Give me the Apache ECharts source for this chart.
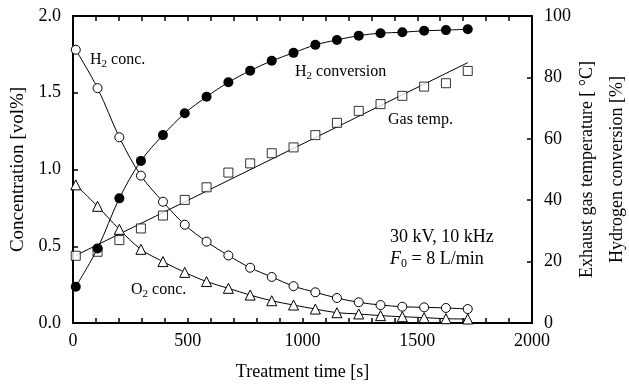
<!DOCTYPE html>
<html>
<head>
<meta charset="utf-8">
<script src="https://cdn.jsdelivr.net/npm/echarts@6/dist/echarts.min.js"></script>
<style>
  html, body { margin: 0; padding: 0; background: #fff; }
  #chart { width: 629px; height: 385px; }
</style>
</head>
<body>
<div id="chart"></div>
<script>
// treatment time of each sample [s]
const times = [12, 107, 202, 296, 392, 487, 582, 677, 772, 866, 961, 1056, 1150, 1245, 1340, 1435, 1530, 1625, 1720];
// left axis [vol%]
const h2Conc = [1.78, 1.53, 1.21, 0.96, 0.79, 0.64, 0.53, 0.44, 0.36, 0.30, 0.24, 0.20, 0.163, 0.135, 0.117, 0.106, 0.102, 0.098, 0.091];
const o2Conc = [0.90, 0.76, 0.61, 0.48, 0.40, 0.33, 0.27, 0.226, 0.182, 0.145, 0.117, 0.091, 0.067, 0.059, 0.048, 0.041, 0.035, 0.028, 0.026];
// right axis [%] / [°C]
const h2Conversion = [11.8, 24.3, 40.6, 52.8, 61.2, 68.3, 73.7, 78.4, 82.2, 85.4, 88.0, 90.6, 92.2, 93.6, 94.4, 94.7, 95.2, 95.4, 95.7];
const gasTemp = [21.9, 23.2, 27.0, 30.8, 35.0, 40.1, 44.2, 49.0, 52.0, 55.3, 57.2, 61.2, 65.2, 69.1, 71.3, 74.0, 77.0, 78.1, 82.1];
// straight fit through the gas temperature
const gasTempFitX = [12, 1720];
const gasTempFit = [22.0, 84.8];

const xTicks = [0, 500, 1000, 1500, 2000];
const leftTicks = ['0.0', '0.5', '1.0', '1.5', '2.0'];

const FONT = '"Liberation Serif", "Times New Roman", serif';
const BLACK = '#000';

const zip = (xs, ys) => xs.map((x, i) => [x, ys[i]]);

const chart = echarts.init(document.getElementById('chart'), null, { renderer: 'canvas' });

// shared look for all four axes: black frame, ticks pointing inward
const axisBase = {
  type: 'value',
  splitLine: { show: false },
  axisLine: { show: true, onZero: false, lineStyle: { color: BLACK, width: 2 } },
  axisTick: { show: true, inside: true, length: 5, lineStyle: { color: BLACK, width: 1.5 } },
  axisLabel: { color: BLACK, fontFamily: FONT, fontSize: 18 },
  nameTextStyle: { color: BLACK, fontFamily: FONT, fontSize: 18 },
  nameMoveOverlap: false,
};

const xBase = {
  ...axisBase,
  min: xTicks[0],
  max: xTicks[xTicks.length - 1],
  interval: 500,
  minorTick: { show: true, splitNumber: 5, length: 5, lineStyle: { color: BLACK, width: 1.5 } },
};

const rich = {
  n: { fontFamily: FONT, fontSize: 16, color: BLACK },
  s: { fontFamily: FONT, fontSize: 11, color: BLACK, padding: [9, 0, 0, 0] },
  b: { fontFamily: FONT, fontSize: 18, color: BLACK },
  bi: { fontFamily: FONT, fontSize: 18, color: BLACK, fontStyle: 'italic' },
  bs: { fontFamily: FONT, fontSize: 12, color: BLACK, padding: [10, 0, 0, 0] },
};

const label = (x, y, text) => ({
  type: 'text',
  x: x,
  y: y,
  style: { text: text, rich: rich, verticalAlign: 'middle', align: 'left' },
});

// open markers: white fill, thin black outline
const openItem = { color: '#fff', borderColor: BLACK, borderWidth: 1 };

const option = {
  animation: false,
  backgroundColor: '#fff',
  grid: { left: 73, right: 97, top: 16, bottom: 62, containLabel: false, outerBoundsMode: 'none' },
  xAxis: [
    {
      ...xBase,
      position: 'bottom',
      axisLabel: { ...axisBase.axisLabel, margin: 9, formatter: (v) => String(v) },
      name: 'Treatment time [s]',
      nameLocation: 'middle',
      nameGap: 40,
    },
    {
      ...xBase,
      position: 'top',
      axisLabel: { show: false },
    },
  ],
  yAxis: [
    {
      ...axisBase,
      position: 'left',
      min: 0,
      max: 2,
      interval: 0.5,
      axisLabel: {
        ...axisBase.axisLabel,
        margin: 12,
        formatter: (v) => leftTicks[Math.round(v / 0.5)],
      },
      name: 'Concentration [vol%]',
      nameLocation: 'middle',
      nameRotate: 90,
      nameGap: 45,
      nameTextStyle: { ...axisBase.nameTextStyle, fontSize: 19 },
    },
    {
      ...axisBase,
      position: 'right',
      min: 0,
      max: 100,
      interval: 20,
      axisLabel: { ...axisBase.axisLabel, margin: 12 },
      name: 'Exhaust gas temperature [ °C]\nHydrogen conversion [%]',
      nameLocation: 'middle',
      nameRotate: 90,
      nameGap: 40,
      nameTextStyle: { ...axisBase.nameTextStyle, lineHeight: 30 },
    },
  ],
  series: [
    {
      name: 'H2 conc.',
      type: 'line',
      yAxisIndex: 0,
      data: zip(times, h2Conc),
      smooth: 0.35,
      symbol: 'circle',
      symbolSize: 9,
      lineStyle: { color: BLACK, width: 1 },
      itemStyle: openItem,
      z: 3,
    },
    {
      name: 'O2 conc.',
      type: 'line',
      yAxisIndex: 0,
      data: zip(times, o2Conc),
      smooth: 0.35,
      symbol: 'triangle',
      symbolSize: 10,
      lineStyle: { color: BLACK, width: 1 },
      itemStyle: openItem,
      z: 3,
    },
    {
      name: 'Gas temp. fit',
      type: 'line',
      yAxisIndex: 1,
      data: zip(gasTempFitX, gasTempFit),
      showSymbol: false,
      lineStyle: { color: BLACK, width: 1 },
      z: 2,
    },
    {
      name: 'Gas temp.',
      type: 'scatter',
      yAxisIndex: 1,
      data: zip(times, gasTemp),
      symbol: 'rect',
      symbolSize: 9,
      itemStyle: openItem,
      z: 3,
    },
    {
      name: 'H2 conversion',
      type: 'line',
      yAxisIndex: 1,
      data: zip(times, h2Conversion),
      smooth: 0.35,
      symbol: 'circle',
      symbolSize: 10,
      lineStyle: { color: BLACK, width: 1 },
      itemStyle: { color: BLACK },
      z: 4,
    },
  ],
  graphic: [
    label(90, 60, '{n|H}{s|2}{n| conc.}'),
    label(295, 72, '{n|H}{s|2}{n| conversion}'),
    label(388, 120, '{n|Gas temp.}'),
    label(131, 290, '{n|O}{s|2}{n| conc.}'),
    label(390, 237, '{b|30 kV, 10 kHz}'),
    label(390, 259, '{bi|F}{bs|0}{b| = 8 L/min}'),
  ],
};

chart.setOption(option);

window.addEventListener('resize', () => chart.resize());
</script>
</body>
</html>
